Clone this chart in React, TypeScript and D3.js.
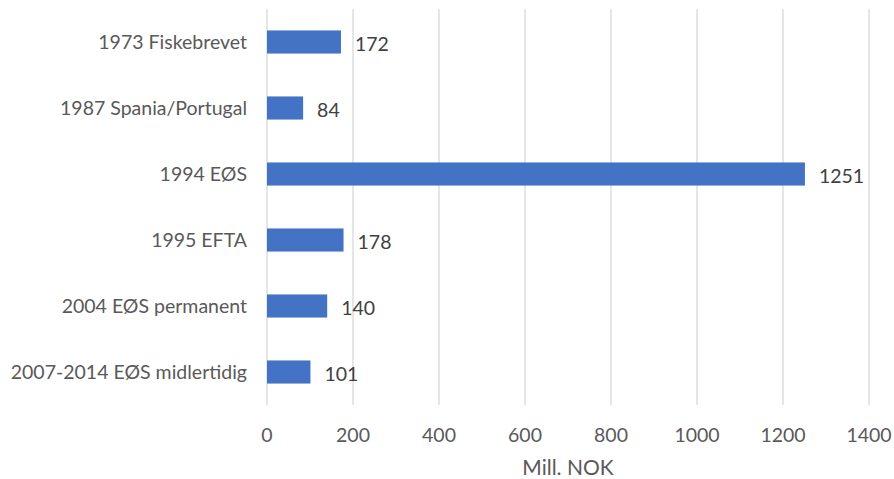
import React from "react";
import * as d3 from "d3";

const categories = [
  "1973 Fiskebrevet",
  "1987 Spania/Portugal",
  "1994 EØS",
  "1995 EFTA",
  "2004 EØS permanent",
  "2007-2014 EØS midlertidig",
];
const values = [172, 84, 1251, 178, 140, 101];
const ticks = [0, 200, 400, 600, 800, 1000, 1200, 1400];
const axisTitle = "Mill. NOK";

const W = 894;
const H = 479;
const left = 267;
const right = 869;
const top = 9;
const bottom = 405;
const font = "Lato, 'Open Sans', sans-serif";
const textColor = "#595959";
const fs = 19.5;

export default function App() {
  const x = d3.scaleLinear().domain([0, 1400]).range([left, right]);
  const y = d3
    .scaleBand()
    .domain(categories)
    .range([top, bottom])
    .paddingInner(0.65)
    .paddingOuter(0.325);
  const band = d3.scaleBand().domain(categories).range([top, bottom]);
  return (
    <svg
      width={W}
      height={H}
      style={{ position: "absolute", left: 0, top: 0, background: "#fff" }}
    >
      {ticks.map((t) => (
        <line
          key={"g" + t}
          x1={x(t)}
          x2={x(t)}
          y1={top}
          y2={bottom}
          stroke="#d9d9d9"
          strokeWidth={1.3}
        />
      ))}
      {categories.map((c, i) => (
        <g key={c}>
          <rect
            x={x(0)}
            y={y(c)}
            width={x(values[i]) - x(0)}
            height={y.bandwidth()}
            fill="#4472C4"
          />
          <text
            x={x(values[i]) + 14}
            y={y(c)! + y.bandwidth() / 2 + 2}
            dy="0.36em"
            fontFamily={font}
            fontSize={fs}
            fill="#404040"
          >
            {values[i]}
          </text>
          <text
            x={left - 20}
            y={band(c)! + band.bandwidth() / 2}
            dy="0.36em"
            textAnchor="end"
            fontFamily={font}
            fontSize={fs}
            fill={textColor}
          >
            {c}
          </text>
        </g>
      ))}
      {ticks.map((t) => (
        <text
          key={"t" + t}
          x={x(t)}
          y={435}
          dy="0.36em"
          textAnchor="middle"
          fontFamily={font}
          fontSize={fs}
          fill={textColor}
        >
          {t}
        </text>
      ))}
      <text
        x={(left + right) / 2}
        y={467}
        dy="0.36em"
        textAnchor="middle"
        fontFamily={font}
        fontSize={21}
        fill={textColor}
      >
        {axisTitle}
      </text>
    </svg>
  );
}
